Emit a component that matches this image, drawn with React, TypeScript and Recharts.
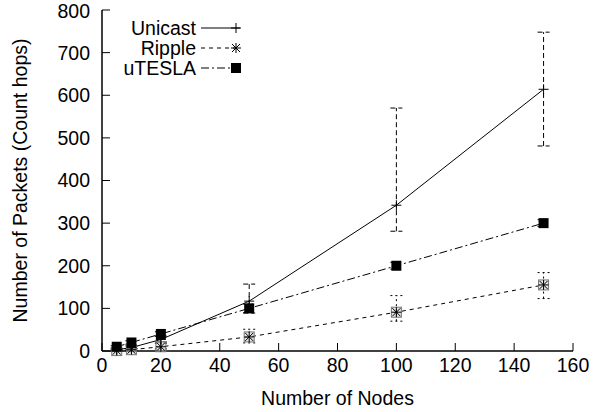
import React from "react";
import {
  LineChart,
  Line,
  XAxis,
  YAxis,
  ErrorBar,
  Label,
} from "recharts";

const nodes = [5, 10, 20, 50, 100, 150];
const unicast = [3, 8, 27, 117, 342, 614];
const unicastErr: [number, number][] = [[2, 3], [3, 4], [6, 8], [28, 40], [61, 228], [133, 134]];
const ripple = [1, 3, 10, 33, 91, 155];
const rippleErr: [number, number][] = [[1, 2], [2, 3], [5, 8], [14, 18], [21, 39], [32, 29]];
const utesla = [10, 20, 40, 100, 200, 300];
const uteslaErr: [number, number][] = [[3, 3], [4, 4], [5, 5], [10, 10], [8, 8], [8, 8]];

const xTicks = [0, 20, 40, 60, 80, 100, 120, 140, 160];
const yTicks = [0, 100, 200, 300, 400, 500, 600, 700, 800];

const data = nodes.map((n, i) => ({
  nodes: n,
  unicast: unicast[i],
  unicastErr: unicastErr[i],
  ripple: ripple[i],
  rippleErr: rippleErr[i],
  utesla: utesla[i],
  uteslaErr: uteslaErr[i],
}));

const FONT = "'Liberation Sans', Arial, Helvetica, sans-serif";
const FS = 19.5;

const PlusDot = (props: any) => {
  const { cx, cy } = props;
  if (cx == null || cy == null) return null;
  return (
    <g stroke="#000" strokeWidth={1}>
      <line x1={cx - 5} y1={cy} x2={cx + 5} y2={cy} />
      <line x1={cx} y1={cy - 5} x2={cx} y2={cy + 5} />
    </g>
  );
};

const StarDot = (props: any) => {
  const { cx, cy, boxed } = props;
  if (cx == null || cy == null) return null;
  return (
    <g stroke="#000" strokeWidth={1} fill="none">
      {boxed !== false && (
        <rect x={cx - 5} y={cy - 5} width={10} height={10} stroke="#777" fill="#ccc" fillOpacity={0.5} />
      )}
      <line x1={cx - 5} y1={cy} x2={cx + 5} y2={cy} />
      <line x1={cx} y1={cy - 5} x2={cx} y2={cy + 5} />
      <line x1={cx - 4} y1={cy - 4} x2={cx + 4} y2={cy + 4} />
      <line x1={cx - 4} y1={cy + 4} x2={cx + 4} y2={cy - 4} />
    </g>
  );
};

const SquareDot = (props: any) => {
  const { cx, cy } = props;
  if (cx == null || cy == null) return null;
  return <rect x={cx - 5} y={cy - 5} width={10} height={10} fill="#000" />;
};

const YTitle = (props: any) => {
  const vb = props.viewBox;
  const x = vb.x + 20;
  const y = vb.y + vb.height / 2;
  return (
    <text
      x={x}
      y={y}
      transform={`rotate(-90, ${x}, ${y})`}
      textAnchor="middle"
      dominantBaseline="central"
      fontFamily={FONT}
      fontSize={FS}
      fill="#000"
    >
      Number of Packets (Count hops)
    </text>
  );
};

const legendItems = [
  { name: "Unicast", dash: undefined, dot: PlusDot },
  { name: "Ripple", dash: "4 4", dot: (p: any) => <StarDot {...p} boxed={false} /> },
  { name: "uTESLA", dash: "8 3 2 3", dot: SquareDot },
];

export default function App() {
  return (
    <div style={{ position: "absolute", left: 0, top: 0, width: 604, height: 412 }}>
      <LineChart
        width={604}
        height={412}
        data={data}
        margin={{ top: 10, right: 31, left: 0, bottom: 0 }}
      >
        <XAxis
          xAxisId="bottom"
          dataKey="nodes"
          type="number"
          domain={[0, 160]}
          ticks={xTicks}
          height={61}
          tickSize={-8}
          tickMargin={15}
          tick={{ fill: "#000", fontSize: FS, fontFamily: FONT }}
          axisLine={{ stroke: "#000", strokeWidth: 1.5 }}
          tickLine={{ stroke: "#000" }}
        >
          <Label
            value="Number of Nodes"
            position="insideBottom"
            offset={7}
            style={{ fill: "#000", fontSize: FS, fontFamily: FONT }}
          />
        </XAxis>
        <XAxis
          xAxisId="top"
          orientation="top"
          dataKey="nodes"
          type="number"
          domain={[0, 160]}
          ticks={xTicks}
          height={0}
          tickSize={-8}
          tick={false}
          axisLine={{ stroke: "#000", strokeWidth: 1.5 }}
          tickLine={{ stroke: "#000" }}
        />
        <YAxis
          yAxisId="left"
          type="number"
          domain={[0, 800]}
          ticks={yTicks}
          width={102}
          tickSize={-8}
          tickMargin={20}
          tick={{ fill: "#000", fontSize: FS, fontFamily: FONT }}
          axisLine={{ stroke: "#000", strokeWidth: 1.5 }}
          tickLine={{ stroke: "#000" }}
        >
          <Label content={YTitle} />
        </YAxis>
        <YAxis
          yAxisId="right"
          orientation="right"
          type="number"
          domain={[0, 800]}
          ticks={yTicks}
          width={0}
          tickSize={-8}
          tick={false}
          axisLine={{ stroke: "#000", strokeWidth: 1.5 }}
          tickLine={{ stroke: "#000" }}
        />
        <Line
          xAxisId="bottom"
          yAxisId="left"
          dataKey="ripple"
          stroke="#000"
          strokeWidth={1}
          strokeDasharray="4 4"
          dot={<StarDot />}
          isAnimationActive={false}
        >
          <ErrorBar dataKey="rippleErr" width={6} stroke="#000" strokeWidth={1} strokeDasharray="2 3" />
        </Line>
        <Line
          xAxisId="bottom"
          yAxisId="left"
          dataKey="utesla"
          stroke="#000"
          strokeWidth={1}
          strokeDasharray="8 3 2 3"
          dot={<SquareDot />}
          isAnimationActive={false}
        >
          <ErrorBar dataKey="uteslaErr" width={6} stroke="#000" strokeWidth={1} strokeDasharray="2 2" />
        </Line>
        <Line
          xAxisId="bottom"
          yAxisId="left"
          dataKey="unicast"
          stroke="#000"
          strokeWidth={1}
          dot={<PlusDot />}
          isAnimationActive={false}
        >
          <ErrorBar dataKey="unicastErr" width={6} stroke="#000" strokeWidth={1} strokeDasharray="5 3" />
        </Line>
      </LineChart>
      <svg
        width={604}
        height={412}
        style={{ position: "absolute", left: 0, top: 0, pointerEvents: "none" }}
      >
        {legendItems.map((item, i) => {
          const y = 28 + i * 20;
          const Dot = item.dot;
          return (
            <g key={item.name}>
              <text
                x={196}
                y={y}
                textAnchor="end"
                dominantBaseline="central"
                fontFamily={FONT}
                fontSize={FS}
                fill="#000"
              >
                {item.name}
              </text>
              <line x1={201} y1={y} x2={240} y2={y} stroke="#000" strokeDasharray={item.dash} />
              <Dot cx={236} cy={y} />
            </g>
          );
        })}
      </svg>
    </div>
  );
}
